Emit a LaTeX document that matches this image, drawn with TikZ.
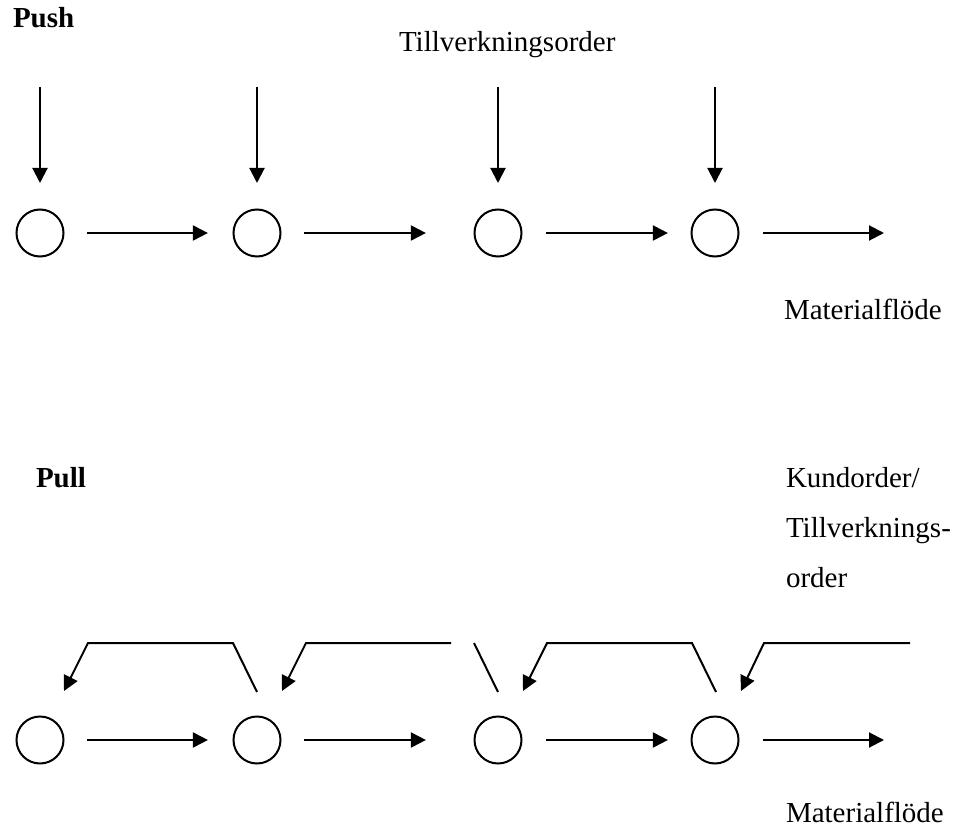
\documentclass[tikz,border=0pt]{standalone}
\usepackage{fontspec}
\setmainfont{Liberation Serif}
\usetikzlibrary{arrows.meta}
\begin{document}
\begin{tikzpicture}[x=1pt,y=-1pt,
  line width=2pt,
  station/.style={draw,circle,minimum size=47pt,inner sep=0pt},
  flow/.style={-{Triangle[width=15pt,length=15pt]}},
  txt/.style={font=\fontsize{29}{34}\selectfont,inner sep=0pt,anchor=base west},
  heading/.style={txt,font=\fontsize{29}{34}\selectfont\bfseries}]

\useasboundingbox (0,0) rectangle (956,829);

% ---------- Push ----------
\node[heading] (push) at (12,28) {Push};
\node[txt] (orders) at (398,52) {Tillverkningsorder};

\foreach \i/\x in {1/40,2/257,3/498,4/715} {
  \node[station] (p\i) at (\x,233) {};
  \coordinate (o\i) at (\x,87);
  \draw[flow,shorten >=25.5pt] (o\i) -- (p\i);
}
\coordinate (pe) at (884,233);
\draw[flow,shorten <=22.6pt,shorten >=24.6pt] (p1) -- (p2);
\draw[flow,shorten <=22.6pt,shorten >=47.6pt] (p2) -- (p3);
\draw[flow,shorten <=23.6pt,shorten >=22.6pt] (p3) -- (p4);
\draw[flow,shorten <=23.6pt] (p4) -- (pe);
\node[txt] (mf1) at (783,319) {Materialflöde};

% ---------- Pull ----------
\node[heading] (pull) at (35,487) {Pull};
\node[txt] (k1) at (785,487) {Kundorder/};
\node[txt] (k2) at (785,537) {Tillverknings-};
\node[txt] (k3) at (785,587) {order};

\foreach \i/\x in {1/40,2/257,3/498,4/715} {
  \node[station] (q\i) at (\x,740) {};
}
\coordinate (qe) at (884,740);
\draw[flow,shorten <=22.6pt,shorten >=24.6pt] (q1) -- (q2);
\draw[flow,shorten <=22.6pt,shorten >=47.6pt] (q2) -- (q3);
\draw[flow,shorten <=23.6pt,shorten >=22.6pt] (q3) -- (q4);
\draw[flow,shorten <=23.6pt] (q4) -- (qe);
\node[txt] (mf2) at (785,822) {Materialflöde};

% feedback signals: tips, left corners, slanted pick-ups
\coordinate (t1) at (64,691);  \coordinate (s1) at (88,643);
\coordinate (t2) at (282,691); \coordinate (s2) at (306,643);
\coordinate (t3) at (523,691); \coordinate (s3) at (547,643);
\coordinate (t4) at (741,691); \coordinate (s4) at (764,643);
\coordinate (u2) at (233,643); \coordinate (b2) at (257,692);
\coordinate (u3) at (474,643); \coordinate (b3) at (498,692);
\coordinate (u4) at (692,643); \coordinate (b4) at (716,692);
\coordinate (r2) at (451,643);
\coordinate (r4) at (910,643);

\draw[flow] (b2) -- (u2) -- (s1) -- (t1);
\draw[flow] (r2) -- (s2) -- (t2);
\draw (u3) -- (b3);
\draw[flow] (b4) -- (u4) -- (s3) -- (t3);
\draw[flow] (r4) -- (s4) -- (t4);

\end{tikzpicture}
\end{document}
